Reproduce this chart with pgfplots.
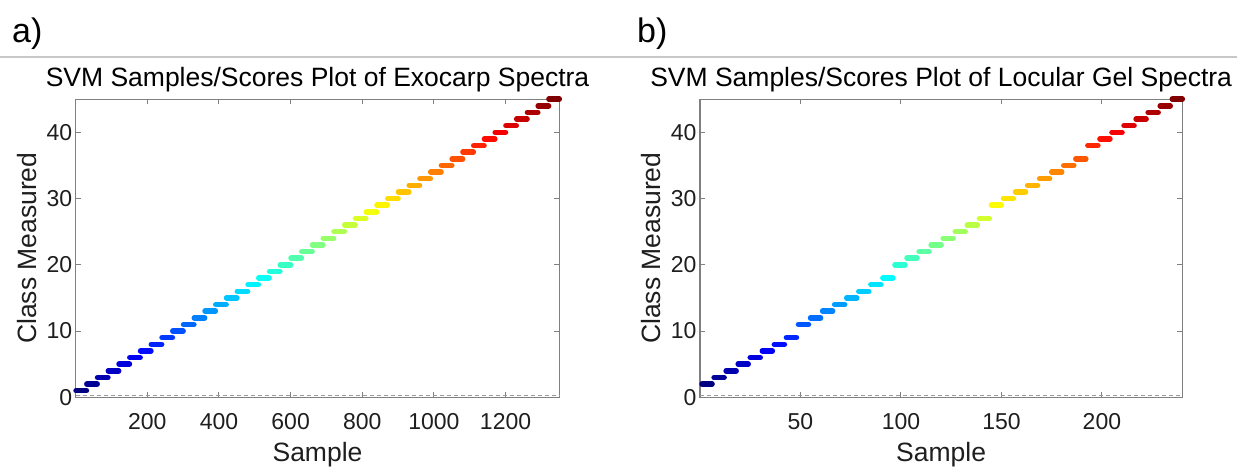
\documentclass[border=0pt]{standalone}
\usepackage{pgfplots}
\usepackage{pgfplotstable}
\pgfplotsset{compat=1.18}
\usepackage{fontspec}
\setmainfont{Liberation Sans}

\definecolor{axgray}{RGB}{128,128,128}
\definecolor{txt}{RGB}{30,30,30}
\definecolor{sepgray}{RGB}{200,200,200}

% each row: first sample, span (last-first), class, colour meta
\pgfplotstableread{
x u y c
1 29 1 1
31 29 2 2
61 29 3 3
91 29 4 4
121 29 5 5
151 29 6 6
181 29 7 7
211 29 8 8
241 29 9 9
271 29 10 10
301 29 11 11
331 29 12 12
361 29 13 13
391 29 14 14
421 29 15 15
451 29 16 16
481 29 17 17
511 29 18 18
541 29 19 19
571 29 20 20
601 29 21 21
631 29 22 22
661 29 23 23
691 29 24 24
721 29 25 25
751 29 26 26
781 29 27 27
811 29 28 28
841 29 29 29
871 29 30 30
901 29 31 31
931 29 32 32
961 29 33 33
991 29 34 34
1021 29 35 35
1051 29 36 36
1081 29 37 37
1111 29 38 38
1141 29 39 39
1171 29 40 40
1201 29 41 41
1231 29 42 42
1261 29 43 43
1291 29 44 44
1321 29 45 45
}\exocarp

\pgfplotstableread{
x u y c
1 5 2 2
7 5 3 3
13 5 4 4
19 5 5 5
25 5 6 6
31 5 7 7
37 5 8 8
43 5 9 9
49 5 11 11
55 5 12 12
61 5 13 13
67 5 14 14
73 5 15 15
79 5 16 16
85 5 17 17
91 5 18 18
97 5 20 20
103 5 21 21
109 5 22 22
115 5 23 23
121 5 24 24
127 5 25 25
133 5 26 26
139 5 27 27
145 5 29 29
151 5 30 30
157 5 31 31
163 5 32 32
169 5 33 33
175 5 34 34
181 5 35 35
187 5 36 36
193 5 38 38
199 5 39 39
205 5 40 40
211 5 41 41
217 5 42 42
223 5 43 43
229 5 44 44
235 5 45 45
}\locular

\pgfplotsset{
  svmstyle/.style={
    scale only axis, height=298.1pt,
    ymin=0, ymax=45,
    ytick={0,10,20,30,40}, yticklabels={0,10,20,30,40},
    tick align=inside, tick pos=both, major tick length=5pt,
    axis line style={axgray, line width=1.2pt},
    tick style={axgray, line width=1pt},
    clip=false,
    ticklabel style={font=\fontsize{23}{27}\selectfont, text=txt},
    xticklabel style={anchor=base, yshift=-32.7pt},
    label style={font=\fontsize{26.5}{31}\selectfont, text=txt},
    xlabel style={at={(axis description cs:0.5,0)}, anchor=base, yshift=-64.7pt},
    ylabel style={at={(axis description cs:-0.1013,0.5)}, anchor=center},
    title style={font=\fontsize{26.5}{31}\selectfont, text=black,
      at={(axis description cs:0.5,1)}, anchor=base, yshift=7pt},
    colormap/jet,
    xlabel={Sample}, ylabel={Class Measured},
  },
  capsules/.style={
    quiver={u=\thisrow{u}, v=0, colored=mapped color,
      every arrow/.append style={line width=5.5pt, line cap=round}},
    point meta=\thisrow{c},
  },
}

\begin{document}
\begin{tikzpicture}
\useasboundingbox (0pt,0pt) rectangle (1237pt,468pt);

\draw[sepgray, line width=1.5pt] (0pt,411pt) -- (1237pt,411pt);
\node[anchor=base west, inner sep=0pt, font=\fontsize{34}{40}\selectfont] at (12pt,425pt) {a)};
\node[anchor=base west, inner sep=0pt, font=\fontsize{34}{40}\selectfont] at (637pt,425pt) {b)};

\begin{axis}[svmstyle,
  at={(75.7pt,70.7pt)}, anchor=south west, width=483.6pt,
  xmin=0, xmax=1350,
  xtick={200,400,600,800,1000,1200},
  xticklabels={200,400,600,800,1000,1200},
  point meta min=1, point meta max=45,
  title={SVM Samples/Scores Plot of Exocarp Spectra},
]
\addplot[axgray!80, dash pattern=on 4pt off 3pt, line width=1pt, forget plot]
  coordinates {(0,0.3) (1350,0.3)};
\addplot[capsules] table[x=x, y=y] {\exocarp};
\end{axis}

\begin{axis}[svmstyle,
  at={(700pt,70.7pt)}, anchor=south west, width=482.3pt,
  xmin=0, xmax=240,
  xtick={50,100,150,200},
  xticklabels={50,100,150,200},
  point meta min=2, point meta max=45,
  title={SVM Samples/Scores Plot of Locular Gel Spectra},
]
\addplot[axgray!80, dash pattern=on 4pt off 3pt, line width=1pt, forget plot]
  coordinates {(0,0.3) (240,0.3)};
\addplot[capsules] table[x=x, y=y] {\locular};
\end{axis}
\end{tikzpicture}
\end{document}
